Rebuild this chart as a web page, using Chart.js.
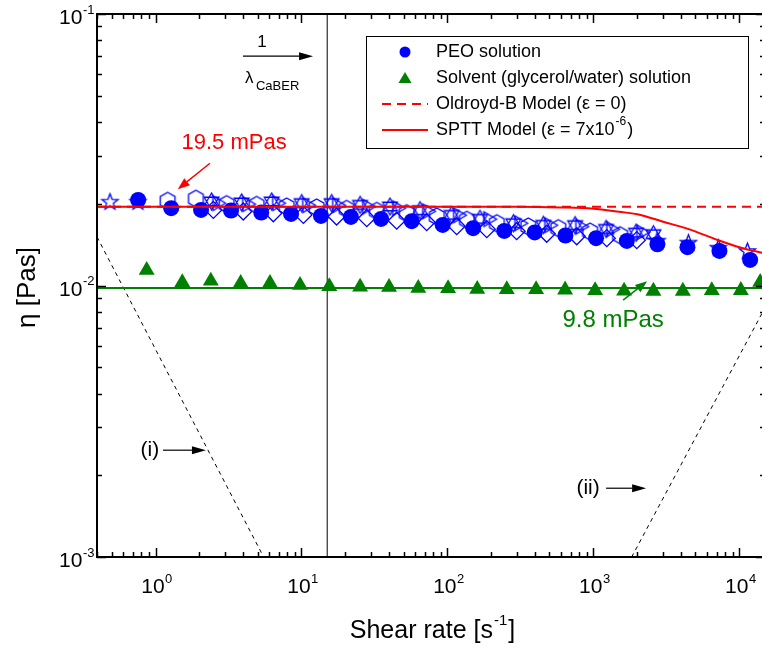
<!DOCTYPE html>
<html><head><meta charset="utf-8">
<script src="https://cdn.jsdelivr.net/npm/chart.js@4/dist/chart.umd.min.js"></script>
<style>html,body{margin:0;padding:0;background:#fff;overflow:hidden}</style>
</head><body>
<canvas id="c" width="762" height="648"></canvas>
<script>
// ---------- data ----------
const peoRate = [0.76, 1.28, 2.05, 3.29, 5.3, 8.48, 13.6, 21.8, 35.1, 56.9, 92.8, 150, 245, 396, 643, 1043, 1694, 2746, 4410, 7305, 11860];
const peoEta  = [0.02065, 0.01926, 0.01899, 0.01889, 0.01857, 0.01835, 0.01804, 0.01789, 0.01759, 0.01725, 0.01672, 0.01626, 0.01589, 0.01568, 0.01528, 0.01494, 0.01460, 0.01419, 0.01384, 0.01341, 0.01242];

const solvRate = [0.869, 1.524, 2.39, 3.83, 6.08, 9.77, 15.5, 25.2, 39.8, 63.1, 101, 160, 255, 405, 640, 1028, 1623, 2577, 4100, 6476, 10240, 13900];
const solvEta  = [0.01139, 0.01026, 0.01040, 0.01020, 0.01020, 0.01003, 0.00992, 0.00988, 0.00986, 0.00977, 0.00975, 0.00969, 0.00968, 0.00967, 0.00964, 0.00959, 0.00955, 0.00954, 0.00954, 0.00959, 0.00960, 0.01028];

// open-symbol repeat runs of the PEO solution
const starRate = [0.487, 0.758, 2733, 4480, 7190, 11360];
const starEta  = [0.02027, 0.02027, 0.01456, 0.01432, 0.01372, 0.01334];
const hexRate = [1.21, 1.89, 3.07, 4.93, 7.92, 12.7, 20.4, 32.8, 52.6, 84.5, 136, 218, 358, 575, 949, 1524];
const hexEta  = [0.02050, 0.02088, 0.01993, 0.01981, 0.01954, 0.01938, 0.01915, 0.01883, 0.01846, 0.01796, 0.01745, 0.01696, 0.0165, 0.01626, 0.0158, 0.01532];
const hgRate = [2.42, 3.89, 6.25, 10.03, 16.1, 25.2, 40.4, 64.9, 107, 167, 283, 454, 749, 1222, 1962, 2577];
const hgEta  = [0.02039, 0.02022, 0.02039, 0.02010, 0.02010, 0.01981, 0.01954, 0.01894, 0.0182, 0.01759, 0.01696, 0.01672, 0.01668, 0.01615, 0.01565, 0.01545];
const dmRate = [2.49, 3.99, 6.41, 10.3, 17.4, 28.0, 44.9, 72.1, 115.8, 186, 298, 479, 769, 1235, 1984];
const dmEta  = [0.01899, 0.01873, 0.01846, 0.01820, 0.01796, 0.01770, 0.01733, 0.01711, 0.01654, 0.01613, 0.01585, 0.01551, 0.01519, 0.01494, 0.01469];
const rtRate = [2.64, 4.23, 6.79, 10.9, 17.5, 28.1, 45.1, 72.4, 118, 190, 310, 497, 811, 1322, 2122];
const rtEta  = [0.0201, 0.01993, 0.0201, 0.01976, 0.01976, 0.01951, 0.01926, 0.01877, 0.01815, 0.01755, 0.01696, 0.01668, 0.01646, 0.01613, 0.01571];

// models
const spttRate = [0.397, 10, 100, 300, 600, 1000, 1500, 2000, 3000, 4500, 7000, 10000, 14300];
const spttEta  = [0.0195, 0.0195, 0.0195, 0.0195, 0.01939, 0.01918, 0.01869, 0.01830, 0.01718, 0.01613, 0.01475, 0.01384, 0.01321];
const oldbRate = [0.397, 14300];
const oldbEta  = [0.0195, 0.0195];
const solvModelRate = [0.397, 14300];
const solvModelEta  = [0.0098, 0.0098];
const caberRate = [15, 15];
const caberEta  = [0.001, 0.1];
const guideIRate = [0.397, 5.5];
const guideIEta  = [0.0151, 0.001];
const guideIIRate = [1830, 14300];
const guideIIEta  = [0.001, 0.0079];

const xMin = 0.397, xMax = 14300, yMin = 0.001, yMax = 0.1;
const xTickLabels = ['0', '1', '2', '3', '4'];      // exponents of 10
const yTickLabels = ['-1', '-2', '-3'];

// ---------- helpers ----------
const FONT = '"Liberation Sans", Arial, Helvetica, sans-serif';
const BLUE = '#0000ff', GREEN = '#008000', RED = '#ff0000';
const pts = (xs, ys) => xs.map((x, i) => ({x: x, y: ys[i]}));

function marker(drawPath, size) {
  const c = document.createElement('canvas');
  c.width = size; c.height = size;
  const g = c.getContext('2d');
  g.translate(size / 2, size / 2);
  g.strokeStyle = BLUE; g.lineWidth = 1.3;
  g.beginPath(); drawPath(g); g.closePath(); g.stroke();
  return c;
}
function poly(g, n, r, rot) {
  for (let i = 0; i < n; i++) {
    const a = rot + i * 2 * Math.PI / n;
    const px = r * Math.cos(a), py = r * Math.sin(a);
    if (i === 0) g.moveTo(px, py); else g.lineTo(px, py);
  }
}
const starImg = marker(g => {
  for (let i = 0; i < 10; i++) {
    const r = i % 2 ? 3.6 : 8.5;
    const a = -Math.PI / 2 + i * Math.PI / 5;
    const px = r * Math.cos(a), py = r * Math.sin(a);
    if (i === 0) g.moveTo(px, py); else g.lineTo(px, py);
  }
}, 21);
const hexImg = marker(g => poly(g, 6, 8.5, -Math.PI / 2), 21);
const hgImg = marker(g => {
  poly(g, 3, 8.5, -Math.PI / 2); g.closePath();
  g.moveTo(8.5 * Math.cos(Math.PI / 2), 8.5 * Math.sin(Math.PI / 2));
  poly(g, 3, 8.5, Math.PI / 2);
}, 21);
const rtImg = marker(g => poly(g, 3, 8.5, 0), 21);

function arrow(ctx, x1, y1, x2, y2, color, lw, hl, hw) {
  const a = Math.atan2(y2 - y1, x2 - x1);
  ctx.save();
  ctx.strokeStyle = color; ctx.fillStyle = color; ctx.lineWidth = lw;
  ctx.beginPath(); ctx.moveTo(x1, y1);
  ctx.lineTo(x2 - hl * Math.cos(a), y2 - hl * Math.sin(a)); ctx.stroke();
  ctx.beginPath(); ctx.moveTo(x2, y2);
  ctx.lineTo(x2 - hl * Math.cos(a) + hw * Math.sin(a), y2 - hl * Math.sin(a) - hw * Math.cos(a));
  ctx.lineTo(x2 - hl * Math.cos(a) - hw * Math.sin(a), y2 - hl * Math.sin(a) + hw * Math.cos(a));
  ctx.closePath(); ctx.fill();
  ctx.restore();
}
function pow10(ctx, exp, x, y, align, bs, es) {
  ctx.font = bs + 'px ' + FONT;
  const wb = ctx.measureText('10').width;
  ctx.font = es + 'px ' + FONT;
  const we = ctx.measureText(exp).width;
  const x0 = align === 'right' ? x - wb - we : x - (wb + we) / 2;
  ctx.textAlign = 'left'; ctx.textBaseline = 'alphabetic';
  ctx.font = bs + 'px ' + FONT; ctx.fillText('10', x0, y);
  ctx.font = es + 'px ' + FONT; ctx.fillText(exp, x0 + wb + 0.5, y - bs * 0.5);
}

const decor = {
  id: 'decor',
  afterDatasetsDraw(chart) {
    const ctx = chart.ctx, a = chart.chartArea;
    const xs = chart.scales.x, ys = chart.scales.y;
    const X = v => xs.getPixelForValue(v), Y = v => ys.getPixelForValue(v);
    ctx.save();
    // spines
    ctx.strokeStyle = '#000'; ctx.lineWidth = 2;
    ctx.beginPath();
    ctx.moveTo(a.left, a.top); ctx.lineTo(a.right + 2, a.top);
    ctx.moveTo(a.left, a.top - 1); ctx.lineTo(a.left, a.bottom + 1);
    ctx.moveTo(a.left - 1, a.bottom); ctx.lineTo(a.right + 2, a.bottom);
    ctx.stroke();
    // ticks
    ctx.lineWidth = 1.5;
    ctx.beginPath();
    for (let d = -1; d <= 4; d++) for (let m = 1; m <= 9; m++) {
      const v = m * Math.pow(10, d);
      if (v < xMin || v > xMax) continue;
      const px = Math.round(X(v)) + 0.5, L = m === 1 ? 9 : 5;
      ctx.moveTo(px, a.bottom); ctx.lineTo(px, a.bottom - L);
      ctx.moveTo(px, a.top); ctx.lineTo(px, a.top + L);
    }
    for (let d = -3; d <= -2; d++) for (let m = 1; m <= 10; m++) {
      const v = m * Math.pow(10, d);
      const py = Math.round(Y(v)) + 0.5, L = (m === 1 || m === 10) ? 9 : 5;
      ctx.moveTo(a.left, py); ctx.lineTo(a.left + L, py);
      ctx.moveTo(a.right + 3, py); ctx.lineTo(a.right + 3 - L, py);
    }
    ctx.stroke();
    // tick labels
    ctx.fillStyle = '#000';
    xTickLabels.forEach(e => pow10(ctx, e, X(Math.pow(10, +e)) + 1, a.bottom + 36, 'center', 21, 13));
    yTickLabels.forEach(e => pow10(ctx, e, a.left - 3, Y(Math.pow(10, +e)) + 10, 'right', 21, 13));
    // axis titles
    ctx.font = '25px ' + FONT; ctx.textBaseline = 'alphabetic';
    const t1 = 'Shear rate [s', t2 = '-1', t3 = ']';
    const w1 = ctx.measureText(t1).width, w3 = ctx.measureText(t3).width;
    ctx.font = '15px ' + FONT; const w2 = ctx.measureText(t2).width;
    let tx = (a.left + a.right) / 2 + 2 - (w1 + w2 + w3) / 2, ty = 638;
    ctx.textAlign = 'left';
    ctx.font = '25px ' + FONT; ctx.fillText(t1, tx, ty);
    ctx.font = '15px ' + FONT; ctx.fillText(t2, tx + w1 + 1, ty - 13);
    ctx.font = '25px ' + FONT; ctx.fillText(t3, tx + w1 + w2 + 2, ty);
    ctx.save();
    ctx.translate(35, (a.top + a.bottom) / 2 + 2);
    ctx.rotate(-Math.PI / 2);
    ctx.textAlign = 'center'; ctx.font = '26px ' + FONT;
    ctx.fillText('\u03b7 [Pas]', 0, 0);
    ctx.restore();

    // annotations
    ctx.textAlign = 'center'; ctx.textBaseline = 'middle';
    ctx.fillStyle = RED; ctx.font = '22px ' + FONT;
    ctx.fillText('19.5 mPas', X(3.45), Y(0.0334));
    arrow(ctx, X(2.36), Y(0.0282), X(1.42), Y(0.02263), RED, 1.5, 12, 4.5);
    ctx.fillStyle = GREEN; ctx.font = '24px ' + FONT;
    ctx.fillText('9.8 mPas', X(1365), Y(0.00745));
    arrow(ctx, X(1598), Y(0.00883), X(2334), Y(0.01037), GREEN, 1.5, 12, 4.5);
    ctx.fillStyle = '#000'; ctx.font = '21px ' + FONT;
    ctx.fillText('(i)', X(0.915), Y(0.002474));
    arrow(ctx, X(1.124), Y(0.002474), X(2.215), Y(0.002474), '#000', 1.2, 14, 4);
    ctx.fillText('(ii)', X(920), Y(0.001792));
    arrow(ctx, X(1222), Y(0.001792), X(2298), Y(0.001792), '#000', 1.2, 14, 4);
    // 1 / lambda_CaBER
    const ax1 = X(3.97), ax2 = X(12.0), ay = Y(0.0699);
    arrow(ctx, ax1, ay, ax2, ay, '#000', 1.2, 14, 4);
    ctx.font = '17px ' + FONT;
    ctx.fillText('1', ax1 + 19, ay - 14);
    ctx.textAlign = 'left';
    ctx.fillText('\u03bb', ax1 + 2, ay + 22);
    ctx.font = '13px ' + FONT;
    ctx.fillText('CaBER', ax1 + 13, ay + 30);

    // legend
    const lx = 366, ly = 36, lw = 382, lh = 112;
    ctx.fillStyle = '#fff'; ctx.fillRect(lx, ly, lw, lh);
    ctx.strokeStyle = '#000'; ctx.lineWidth = 1;
    ctx.strokeRect(lx + 0.5, ly + 0.5, lw, lh);
    const rows = [52, 78, 104, 130];
    const labels = ['PEO solution', 'Solvent (glycerol/water) solution', 'Oldroyd-B Model (\u03b5 = 0)', 'SPTT Model (\u03b5 = 7x10'];
    ctx.fillStyle = BLUE; ctx.beginPath(); ctx.arc(405, rows[0], 5.5, 0, 2 * Math.PI); ctx.fill();
    ctx.fillStyle = GREEN; ctx.beginPath();
    ctx.moveTo(405, rows[1] - 6); ctx.lineTo(411.5, rows[1] + 5); ctx.lineTo(398.5, rows[1] + 5); ctx.closePath(); ctx.fill();
    ctx.strokeStyle = RED; ctx.lineWidth = 2;
    ctx.setLineDash([9, 6]); ctx.beginPath(); ctx.moveTo(382, rows[2]); ctx.lineTo(428, rows[2]); ctx.stroke();
    ctx.setLineDash([]); ctx.beginPath(); ctx.moveTo(382, rows[3]); ctx.lineTo(428, rows[3]); ctx.stroke();
    ctx.fillStyle = '#000'; ctx.textAlign = 'left'; ctx.textBaseline = 'middle';
    ctx.font = '18px ' + FONT;
    labels.forEach((t, i) => ctx.fillText(t, 436, rows[i]));
    const wS = ctx.measureText(labels[3]).width;
    ctx.font = '12px ' + FONT; ctx.fillText('-6', 436 + wS + 1, rows[3] - 8);
    const wE = ctx.measureText('-6').width;
    ctx.font = '18px ' + FONT; ctx.fillText(')', 436 + wS + wE + 2, rows[3]);
    ctx.restore();
  }
};

const openDs = (label, xsArr, ysArr, img) => ({
  label, data: pts(xsArr, ysArr), pointStyle: img, pointRadius: 8,
  borderColor: BLUE, backgroundColor: 'rgba(0,0,0,0)', showLine: false, order: 3
});
const lineDs = (label, xsArr, ysArr, color, width, dash, order) => ({
  label, data: pts(xsArr, ysArr), showLine: true, pointRadius: 0, borderColor: color,
  backgroundColor: color, borderWidth: width, borderDash: dash, order, fill: false
});

new Chart(document.getElementById('c'), {
  type: 'scatter',
  data: {
    datasets: [
      Object.assign(lineDs('SPTT Model', spttRate, spttEta, RED, 2, [], 0), {cubicInterpolationMode: 'monotone'}),
      lineDs('Oldroyd-B Model', oldbRate, oldbEta, RED, 2, [9, 6], 0),
      {label: 'PEO solution', data: pts(peoRate, peoEta), pointStyle: 'circle', pointRadius: 8,
       backgroundColor: BLUE, borderColor: BLUE, borderWidth: 0, order: 1},
      {label: 'Solvent (glycerol/water) solution', data: pts(solvRate, solvEta), pointStyle: 'triangle', pointRadius: 9.2,
       backgroundColor: GREEN, borderColor: GREEN, borderWidth: 0, order: 1},
      openDs('PEO run a', starRate, starEta, starImg),
      openDs('PEO run b', hexRate, hexEta, hexImg),
      openDs('PEO run c', hgRate, hgEta, hgImg),
      {label: 'PEO run d', data: pts(dmRate, dmEta), pointStyle: 'rectRot', pointRadius: 8.5,
       borderColor: BLUE, backgroundColor: 'rgba(0,0,0,0)', borderWidth: 1.3, order: 3},
      openDs('PEO run e', rtRate, rtEta, rtImg),
      lineDs('Solvent model', solvModelRate, solvModelEta, GREEN, 2, [], 2),
      lineDs('1/lambda CaBER', caberRate, caberEta, '#000', 1, [], 4),
      lineDs('(i)', guideIRate, guideIEta, '#000', 1, [4, 4], 4),
      lineDs('(ii)', guideIIRate, guideIIEta, '#000', 1, [4, 4], 4)
    ]
  },
  options: {
    responsive: false,
    animation: false,
    devicePixelRatio: 1,
    layout: {autoPadding: false, padding: {left: 97, top: 14, right: 0, bottom: 91}},
    plugins: {legend: {display: false}, tooltip: {enabled: false}},
    scales: {
      x: {type: 'logarithmic', min: xMin, max: xMax,
          grid: {display: false, drawTicks: false}, border: {display: false},
          ticks: {display: false}, afterFit: s => { s.height = 0; }},
      y: {type: 'logarithmic', min: yMin, max: yMax,
          grid: {display: false, drawTicks: false}, border: {display: false},
          ticks: {display: false}, afterFit: s => { s.width = 0; }}
    }
  },
  plugins: [decor]
});
</script>
</body></html>
